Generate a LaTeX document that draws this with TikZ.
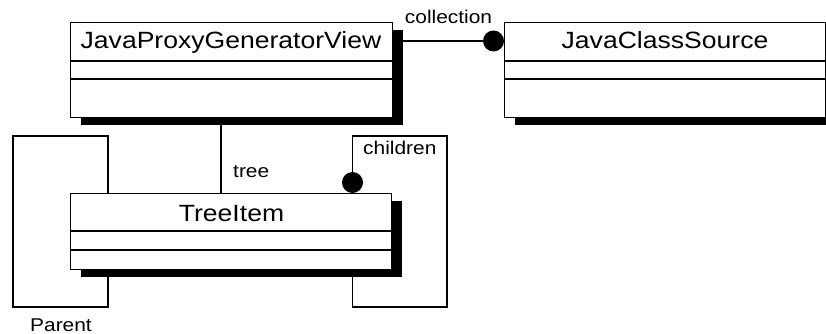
\documentclass[tikz,border=0pt]{standalone}
\usepackage{fontspec}
\setmainfont{Liberation Sans}[FakeStretch=1.13]
\usetikzlibrary{calc,shadows}
\tikzset{
  classbox/.style={draw=black, line width=1.4pt, fill=white, rectangle, inner sep=0pt,
    anchor=north west,
    drop shadow={shadow xshift=10pt, shadow yshift=-7pt, fill=black, opacity=1}},
  divider/.style={line width=1.2pt},
  conn/.style={line width=1.2pt},
  dot/.style={circle, fill=black, draw=none, minimum size=21pt, inner sep=0pt},
  titletext/.style={inner sep=0pt, anchor=base, font=\fontsize{23.5}{28}\selectfont},
  lbl/.style={inner sep=0pt, font=\fontsize{18.5}{22}\selectfont},
}
\begin{document}
\begin{tikzpicture}[x=1pt,y=-1pt]
\useasboundingbox (0,0) rectangle (826,334);
% classes
\node[classbox, minimum width=322pt, minimum height=95pt] (jpgv) at (70,22) {};
\node[classbox, minimum width=321pt, minimum height=95pt] (jcs) at (504,22) {};
\node[classbox, minimum width=321pt, minimum height=76pt] (ti) at (70,193) {};
% dividers
\foreach \n/\a/\b in {jpgv/39/57, jcs/39/57, ti/38/57}{
  \draw[divider] ($(\n.north west)+(0,\a)$) -- ($(\n.north east)+(0,\a)$);
  \draw[divider] ($(\n.north west)+(0,\b)$) -- ($(\n.north east)+(0,\b)$);
}
% titles
\node[titletext] (jpgvt) at (231,49) {JavaProxyGeneratorView};
\node[titletext] (jcst) at (665,49) {JavaClassSource};
\node[titletext] (tit) at (231.5,221.7) {TreeItem};
% collection
\node[dot] (cdot) at (493.5,41) {};
\draw[conn] (jpgv.east |- cdot) -- (cdot);
\node[lbl, anchor=base] (lcoll) at (448.5,24) {collection};
% tree
\draw[conn] ($(jpgv.south west)+(151,0)$) -- ($(ti.north west)+(151,0)$);
\node[lbl, anchor=base west] (ltree) at (233,177.7) {tree};
% children
\node[dot] (chdot) at (352.5,182.5) {};
\draw[conn] (chdot.north) |- (447,136) |- (352.5,307) -- (chdot |- ti.south);
\node[lbl, anchor=base west] (lchild) at (363,154) {children};
% parent
\draw[conn] ($(ti.north west)+(38,0)$) |- (13,136) |- (108,307) -- ($(ti.south west)+(38,0)$);
\node[lbl, anchor=base west] (lpar) at (30,331) {Parent};
\end{tikzpicture}
\end{document}
